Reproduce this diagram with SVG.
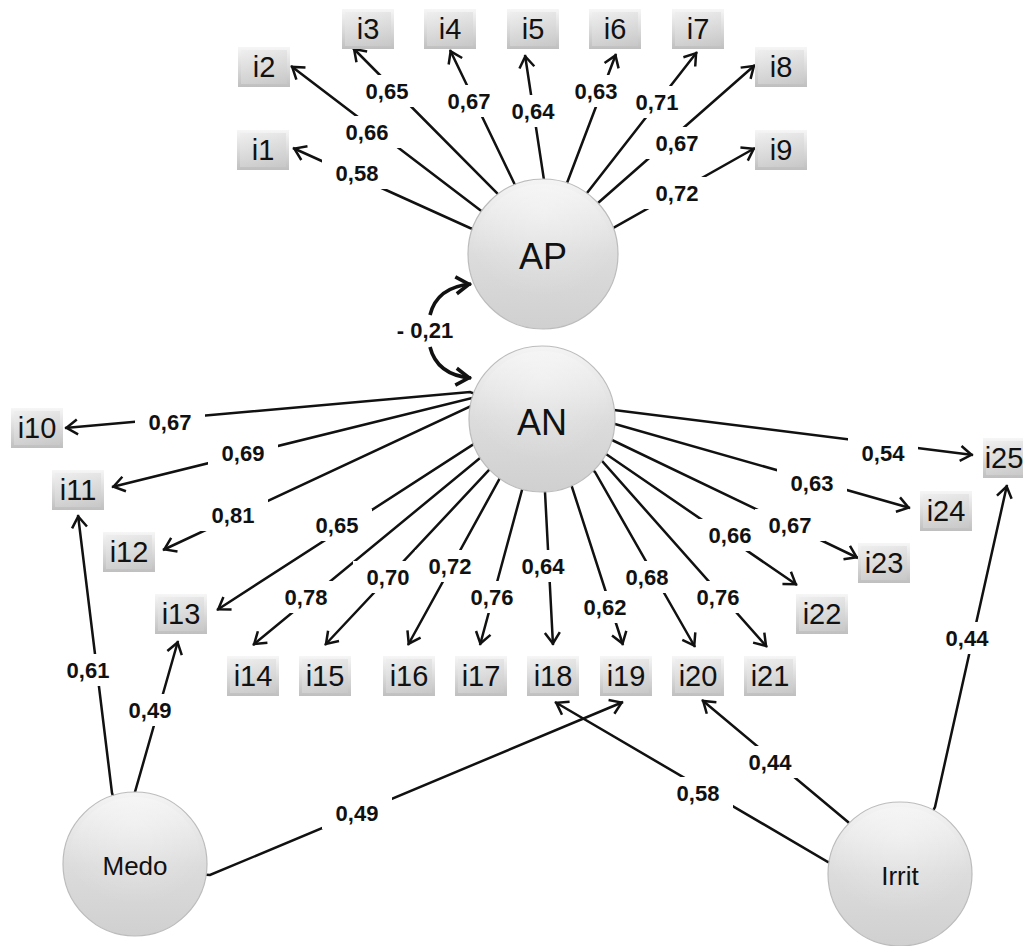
<svg xmlns="http://www.w3.org/2000/svg" width="1023" height="946" viewBox="0 0 1023 946">
  <defs>
    <linearGradient id="boxg" x1="0" y1="0" x2="0" y2="1">
      <stop offset="0" stop-color="#f6f6f6"/>
      <stop offset="0.45" stop-color="#dedede"/>
      <stop offset="1" stop-color="#bfbfbf"/>
    </linearGradient>
    <linearGradient id="boxin" x1="0" y1="0" x2="1" y2="1">
      <stop offset="0" stop-color="#ececec"/>
      <stop offset="1" stop-color="#cbcbcb"/>
    </linearGradient>
    <linearGradient id="ballg" x1="0" y1="0" x2="0" y2="1">
      <stop offset="0" stop-color="#f4f4f4"/>
      <stop offset="0.5" stop-color="#dcdcdc"/>
      <stop offset="1" stop-color="#d0d0d0"/>
    </linearGradient>
    <radialGradient id="ballhi" cx="0.5" cy="0.2" r="0.6">
      <stop offset="0" stop-color="#ffffff" stop-opacity="0.35"/>
      <stop offset="1" stop-color="#ffffff" stop-opacity="0"/>
    </radialGradient>
    <marker id="ah" viewBox="-16 -10 20 20" markerWidth="20" markerHeight="20" refX="1.5" refY="0" orient="auto" markerUnits="userSpaceOnUse" overflow="visible">
      <path d="M-11,-7.5 L0,0 L-11,7.5" fill="none" stroke="#111" stroke-width="2.5"/>
    </marker>
    <marker id="ahb" viewBox="-18 -12 22 24" markerWidth="22" markerHeight="24" refX="2" refY="0" orient="auto" markerUnits="userSpaceOnUse" overflow="visible">
      <path d="M-13,-8.5 L0,0 L-13,8.5" fill="none" stroke="#111" stroke-width="3.6"/>
    </marker>
  </defs>
  <style>
    .ln { fill: none; stroke: #111; stroke-width: 2.5; marker-end: url(#ah); }
    .cv { fill: none; stroke: #111; stroke-width: 3.6; marker-end: url(#ahb); }
    .lb { fill: #ffffff; }
    .lt { font-family: "Liberation Sans", Arial, sans-serif; font-weight: bold; font-size: 22px; fill: #111; text-anchor: middle; }
    .bx { fill: url(#boxg); }
    .bi { fill: url(#boxin); opacity: 0.55; }
    .bt { font-family: "Liberation Sans", Arial, sans-serif; font-size: 29px; fill: #111; text-anchor: middle; }
    .ball { fill: url(#ballg); stroke: #bcbcbc; stroke-width: 1.2; }
    .hi { fill: url(#ballhi); }
    .nt { font-family: "Liberation Sans", Arial, sans-serif; fill: #111; text-anchor: middle; }
  </style>
  <rect width="1023" height="946" fill="#ffffff"/>

  <g id="connectors">
    <!-- AP loadings -->
    <path class="ln" d="M484.6,233.2 L470,228 L293,148"/>
    <path class="ln" d="M492.6,218.8 L480,210 L291,66"/>
    <path class="ln" d="M506.2,205.2 L497,193 L353,48"/>
    <path class="ln" d="M520.6,198.8 L515,185 L450,50"/>
    <path class="ln" d="M543.8,194.8 L544,180 L525,55"/>
    <path class="ln" d="M562.2,197.2 L567,183 L616,54"/>
    <path class="ln" d="M578.2,205.2 L587,193 L697,52"/>
    <path class="ln" d="M587,213.2 L598,203 L755,65"/>
    <path class="ln" d="M599,233.2 L613,228 L755,148"/>
    <!-- AN loadings -->
    <path class="ln" d="M484.4,397.4 L470,392 L65,428"/>
    <path class="ln" d="M486,402.2 L472,398 L112,487"/>
    <path class="ln" d="M485.2,408.6 L471,406 L163,550"/>
    <path class="ln" d="M487.6,439 L474,444 L217,610"/>
    <path class="ln" d="M492.4,450.2 L480,458 L253,645"/>
    <path class="ln" d="M500.4,459 L490,469 L325,645"/>
    <path class="ln" d="M508.4,466.2 L500,478 L408,645"/>
    <path class="ln" d="M526,475.8 L522,490 L480,645"/>
    <path class="ln" d="M544.4,477.4 L545,492 L553,645"/>
    <path class="ln" d="M566,473.4 L572,487 L623,645"/>
    <path class="ln" d="M584.4,461.4 L595,472 L695,647"/>
    <path class="ln" d="M590,452.6 L602,461 L767,647"/>
    <path class="ln" d="M593.2,447 L606,454 L797,585"/>
    <path class="ln" d="M598,435.8 L612,440 L858,558"/>
    <path class="ln" d="M600.4,423 L615,424 L910,508"/>
    <path class="ln" d="M599.6,411.8 L614,410 L973,455"/>
    <!-- Medo loadings -->
    <path class="ln" d="M116.6,807 L112,793 L78,515"/>
    <path class="ln" d="M135,806 L135,792 L178,641"/>
    <path class="ln" d="M195,874 L210,875 L623,702"/>
    <!-- Irrit loadings -->
    <path class="ln" d="M842.4,864.4 L828,862 L555,702"/>
    <path class="ln" d="M858.4,832.4 L848,822 L702,700"/>
    <path class="ln" d="M928,820.4 L935,807 L1007,485"/>
    <!-- AP / AN correlation -->
    <path class="cv" d="M430,315 Q437,287 471,284"/>
    <path class="cv" d="M430,347 Q437,375 471,378"/>

    <g id="label-backs">
      <rect class="lb" x="322" y="157" width="70" height="32"/>
      <rect class="lb" x="332" y="116" width="70" height="32"/>
      <rect class="lb" x="352" y="75" width="70" height="32"/>
      <rect class="lb" x="434" y="85" width="70" height="32"/>
      <rect class="lb" x="498" y="95" width="70" height="32"/>
      <rect class="lb" x="561" y="75" width="70" height="32"/>
      <rect class="lb" x="622" y="86" width="70" height="32"/>
      <rect class="lb" x="642" y="127" width="70" height="32"/>
      <rect class="lb" x="642" y="177" width="70" height="32"/>

      <rect class="lb" x="135" y="406" width="70" height="32"/>
      <rect class="lb" x="208" y="437" width="70" height="32"/>
      <rect class="lb" x="198" y="499" width="70" height="32"/>
      <rect class="lb" x="302" y="509" width="70" height="32"/>
      <rect class="lb" x="271" y="581" width="70" height="32"/>
      <rect class="lb" x="353" y="561" width="70" height="32"/>
      <rect class="lb" x="415" y="550" width="70" height="32"/>
      <rect class="lb" x="457" y="581" width="70" height="32"/>
      <rect class="lb" x="508" y="550" width="70" height="32"/>
      <rect class="lb" x="570" y="591" width="70" height="32"/>
      <rect class="lb" x="612" y="561" width="70" height="32"/>
      <rect class="lb" x="683" y="581" width="70" height="32"/>
      <rect class="lb" x="695" y="519" width="70" height="32"/>
      <rect class="lb" x="755" y="509" width="70" height="32"/>
      <rect class="lb" x="777" y="467" width="70" height="32"/>
      <rect class="lb" x="848" y="437" width="70" height="32"/>

      <rect class="lb" x="53" y="654" width="70" height="32"/>
      <rect class="lb" x="115" y="694" width="70" height="32"/>
      <rect class="lb" x="322" y="797" width="70" height="32"/>
      <rect class="lb" x="663" y="777" width="70" height="32"/>
      <rect class="lb" x="735" y="746" width="70" height="32"/>
      <rect class="lb" x="932" y="622" width="70" height="32"/>
    </g>

    <g id="labels">
      <text class="lt" x="357" y="181">0,58</text>
      <text class="lt" x="367" y="140">0,66</text>
      <text class="lt" x="387" y="99">0,65</text>
      <text class="lt" x="469" y="109">0,67</text>
      <text class="lt" x="533" y="119">0,64</text>
      <text class="lt" x="596" y="99">0,63</text>
      <text class="lt" x="657" y="110">0,71</text>
      <text class="lt" x="677" y="151">0,67</text>
      <text class="lt" x="677" y="201">0,72</text>

      <text class="lt" x="425" y="338">- 0,21</text>

      <text class="lt" x="170" y="430">0,67</text>
      <text class="lt" x="243" y="461">0,69</text>
      <text class="lt" x="233" y="523">0,81</text>
      <text class="lt" x="337" y="533">0,65</text>
      <text class="lt" x="306" y="605">0,78</text>
      <text class="lt" x="388" y="585">0,70</text>
      <text class="lt" x="450" y="574">0,72</text>
      <text class="lt" x="492" y="605">0,76</text>
      <text class="lt" x="543" y="574">0,64</text>
      <text class="lt" x="605" y="615">0,62</text>
      <text class="lt" x="647" y="585">0,68</text>
      <text class="lt" x="718" y="605">0,76</text>
      <text class="lt" x="730" y="543">0,66</text>
      <text class="lt" x="790" y="533">0,67</text>
      <text class="lt" x="812" y="491">0,63</text>
      <text class="lt" x="883" y="461">0,54</text>

      <text class="lt" x="88" y="678">0,61</text>
      <text class="lt" x="150" y="718">0,49</text>
      <text class="lt" x="357" y="821">0,49</text>
      <text class="lt" x="698" y="801">0,58</text>
      <text class="lt" x="770" y="770">0,44</text>
      <text class="lt" x="967" y="646">0,44</text>
    </g>
  </g>

  <!-- observed items -->
  <g id="i1"><rect class="bx" x="237" y="130" width="52" height="40"/><rect class="bi" x="240" y="133" width="46" height="34"/><text class="bt" x="263" y="160">i1</text></g>
  <g id="i2"><rect class="bx" x="238" y="47" width="52" height="40"/><rect class="bi" x="241" y="50" width="46" height="34"/><text class="bt" x="264" y="77">i2</text></g>
  <g id="i3"><rect class="bx" x="342" y="9" width="52" height="40"/><rect class="bi" x="345" y="12" width="46" height="34"/><text class="bt" x="368" y="39">i3</text></g>
  <g id="i4"><rect class="bx" x="424" y="9" width="52" height="40"/><rect class="bi" x="427" y="12" width="46" height="34"/><text class="bt" x="450" y="39">i4</text></g>
  <g id="i5"><rect class="bx" x="507" y="9" width="52" height="40"/><rect class="bi" x="510" y="12" width="46" height="34"/><text class="bt" x="533" y="39">i5</text></g>
  <g id="i6"><rect class="bx" x="589" y="9" width="52" height="40"/><rect class="bi" x="592" y="12" width="46" height="34"/><text class="bt" x="615" y="39">i6</text></g>
  <g id="i7"><rect class="bx" x="672" y="9" width="52" height="40"/><rect class="bi" x="675" y="12" width="46" height="34"/><text class="bt" x="698" y="39">i7</text></g>
  <g id="i8"><rect class="bx" x="755" y="47" width="52" height="40"/><rect class="bi" x="758" y="50" width="46" height="34"/><text class="bt" x="781" y="77">i8</text></g>
  <g id="i9"><rect class="bx" x="755" y="130" width="52" height="40"/><rect class="bi" x="758" y="133" width="46" height="34"/><text class="bt" x="781" y="160">i9</text></g>
  <g id="i10"><rect class="bx" x="11" y="408" width="52" height="40"/><rect class="bi" x="14" y="411" width="46" height="34"/><text class="bt" x="37" y="438">i10</text></g>
  <g id="i11"><rect class="bx" x="52" y="470" width="52" height="40"/><rect class="bi" x="55" y="473" width="46" height="34"/><text class="bt" x="78" y="500">i11</text></g>
  <g id="i12"><rect class="bx" x="103" y="532" width="52" height="40"/><rect class="bi" x="106" y="535" width="46" height="34"/><text class="bt" x="129" y="562">i12</text></g>
  <g id="i13"><rect class="bx" x="155" y="594" width="52" height="40"/><rect class="bi" x="158" y="597" width="46" height="34"/><text class="bt" x="181" y="624">i13</text></g>
  <g id="i14"><rect class="bx" x="227" y="656" width="52" height="40"/><rect class="bi" x="230" y="659" width="46" height="34"/><text class="bt" x="253" y="686">i14</text></g>
  <g id="i15"><rect class="bx" x="299" y="656" width="52" height="40"/><rect class="bi" x="302" y="659" width="46" height="34"/><text class="bt" x="325" y="686">i15</text></g>
  <g id="i16"><rect class="bx" x="383" y="656" width="52" height="40"/><rect class="bi" x="386" y="659" width="46" height="34"/><text class="bt" x="409" y="686">i16</text></g>
  <g id="i17"><rect class="bx" x="455" y="656" width="52" height="40"/><rect class="bi" x="458" y="659" width="46" height="34"/><text class="bt" x="481" y="686">i17</text></g>
  <g id="i18"><rect class="bx" x="527" y="656" width="52" height="40"/><rect class="bi" x="530" y="659" width="46" height="34"/><text class="bt" x="553" y="686">i18</text></g>
  <g id="i19"><rect class="bx" x="600" y="656" width="52" height="40"/><rect class="bi" x="603" y="659" width="46" height="34"/><text class="bt" x="626" y="686">i19</text></g>
  <g id="i20"><rect class="bx" x="672" y="656" width="52" height="40"/><rect class="bi" x="675" y="659" width="46" height="34"/><text class="bt" x="698" y="686">i20</text></g>
  <g id="i21"><rect class="bx" x="744" y="656" width="52" height="40"/><rect class="bi" x="747" y="659" width="46" height="34"/><text class="bt" x="770" y="686">i21</text></g>
  <g id="i22"><rect class="bx" x="796" y="594" width="52" height="40"/><rect class="bi" x="799" y="597" width="46" height="34"/><text class="bt" x="822" y="624">i22</text></g>
  <g id="i23"><rect class="bx" x="858" y="543" width="52" height="40"/><rect class="bi" x="861" y="546" width="46" height="34"/><text class="bt" x="884" y="573">i23</text></g>
  <g id="i24"><rect class="bx" x="920" y="491" width="52" height="40"/><rect class="bi" x="923" y="494" width="46" height="34"/><text class="bt" x="946" y="521">i24</text></g>
  <g id="i25"><rect class="bx" x="983" y="438" width="52" height="40"/><rect class="bi" x="986" y="441" width="46" height="34"/><text class="bt" x="1004" y="468">i25</text></g>

  <!-- latent factors -->
  <g id="AP"><circle class="ball" cx="543" cy="254" r="75"/><circle class="hi" cx="543" cy="254" r="70"/><text class="nt" x="543" y="269" font-size="36">AP</text></g>
  <g id="AN"><circle class="ball" cx="542" cy="419" r="73"/><circle class="hi" cx="542" cy="419" r="68"/><text class="nt" x="542" y="435" font-size="36">AN</text></g>
  <g id="Medo"><circle class="ball" cx="135" cy="864" r="72"/><circle class="hi" cx="135" cy="864" r="67"/><text class="nt" x="135" y="875" font-size="26">Medo</text></g>
  <g id="Irrit"><circle class="ball" cx="900" cy="874" r="72"/><circle class="hi" cx="900" cy="874" r="67"/><text class="nt" x="900" y="885" font-size="26">Irrit</text></g>
</svg>
